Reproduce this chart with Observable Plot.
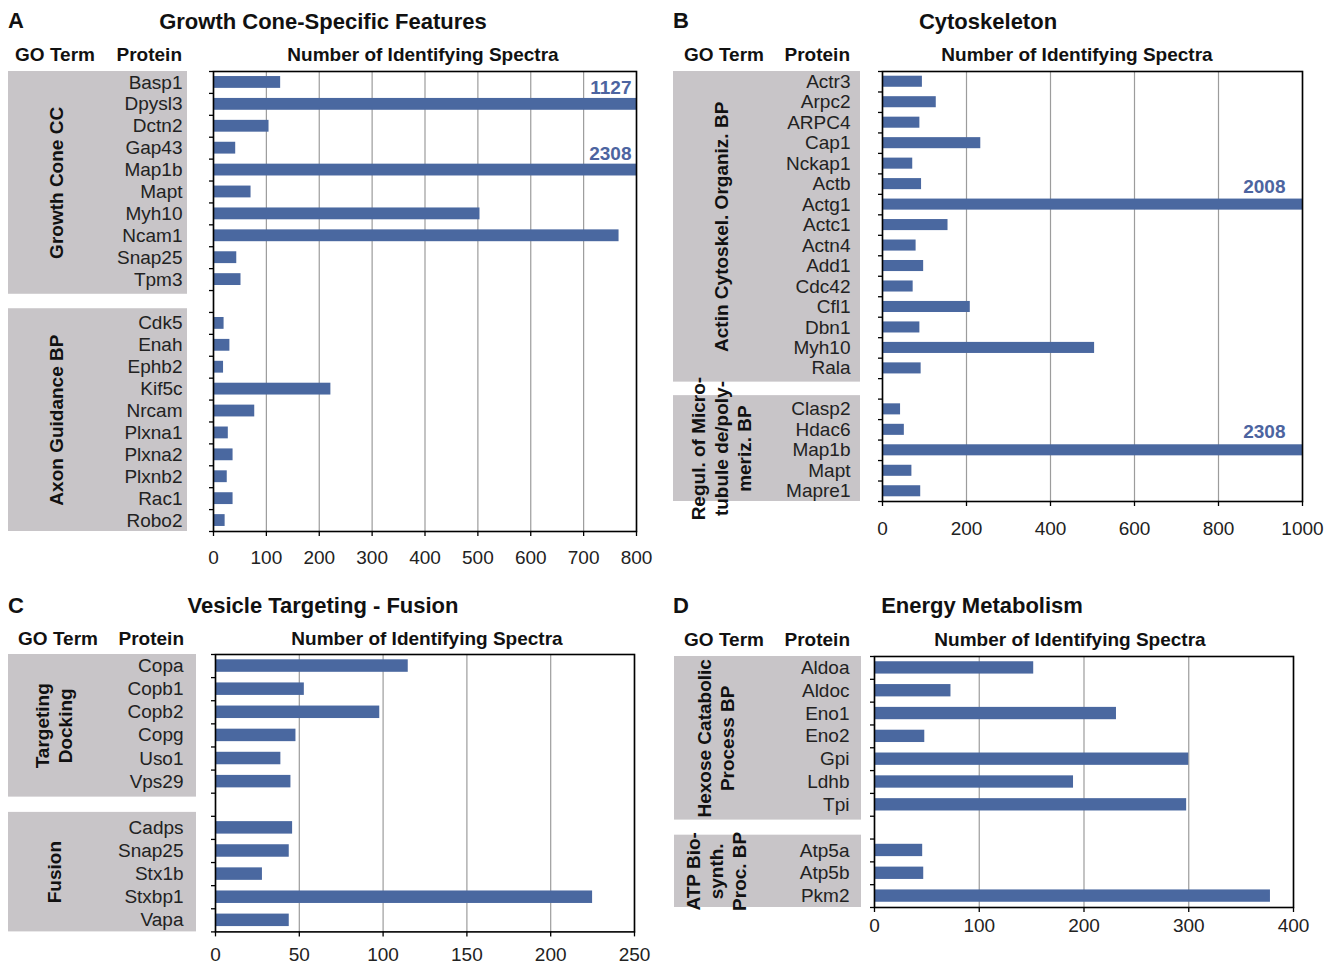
<!DOCTYPE html>
<html><head><meta charset="utf-8">
<script src="https://cdn.jsdelivr.net/npm/d3@7"></script>
<script src="https://cdn.jsdelivr.net/npm/@observablehq/plot@0.6"></script>
<style>
body{margin:0;background:#fff;font-family:"Liberation Sans",Arial,Helvetica,sans-serif;}
#root{position:relative;width:1333px;height:965px;overflow:hidden;background:#fff;}
.t{position:absolute;white-space:nowrap;color:#111;line-height:1;}
.p{position:absolute;}
</style></head><body><div id="root"></div>
<script>
// ---------- DATA ----------
// Panel A: Growth Cone-Specific Features
const aTitle = "Growth Cone-Specific Features";
const aGroups = ["Growth Cone CC", "Axon Guidance BP"];
const aProteins = [
  ["Basp1","Dpysl3","Dctn2","Gap43","Map1b","Mapt","Myh10","Ncam1","Snap25","Tpm3"],
  ["Cdk5","Enah","Ephb2","Kif5c","Nrcam","Plxna1","Plxna2","Plxnb2","Rac1","Robo2"]
];
const aValues = [
  [127,1127,105,42,2308,71,504,767,44,52],
  [20,31,19,222,78,28,37,26,37,22]
];
const aTicks = [0,100,200,300,400,500,600,700,800];

// Panel B: Cytoskeleton
const bTitle = "Cytoskeleton";
const bGroups = ["Actin Cytoskel. Organiz. BP", "Regul. of Micro-\ntubule de/poly-\nmeriz. BP"];
const bProteins = [
  ["Actr3","Arpc2","ARPC4","Cap1","Nckap1","Actb","Actg1","Actc1","Actn4","Add1","Cdc42","Cfl1","Dbn1","Myh10","Rala"],
  ["Clasp2","Hdac6","Map1b","Mapt","Mapre1"]
];
const bValues = [
  [95,128,89,234,72,93,2008,156,80,98,73,209,89,505,92],
  [43,52,2308,70,91]
];
const bTicks = [0,200,400,600,800,1000];

// Panel C: Vesicle Targeting - Fusion
const cTitle = "Vesicle Targeting - Fusion";
const cGroups = ["Targeting\nDocking", "Fusion"];
const cProteins = [
  ["Copa","Copb1","Copb2","Copg","Uso1","Vps29"],
  ["Cadps","Snap25","Stx1b","Stxbp1","Vapa"]
];
const cValues = [
  [115,53,98,48,39,45],
  [46,44,28,225,44]
];
const cTicks = [0,50,100,150,200,250];

// Panel D: Energy Metabolism
const dTitle = "Energy Metabolism";
const dGroups = ["Hexose Catabolic\nProcess BP", "ATP Bio-\nsynth.\nProc. BP"];
const dProteins = [
  ["Aldoa","Aldoc","Eno1","Eno2","Gpi","Ldhb","Tpi"],
  ["Atp5a","Atp5b","Pkm2"]
];
const dValues = [
  [152,73,231,48,300,190,298],
  [46,47,378]
];
const dTicks = [0,100,200,300,400];

const headerLabels = ["GO Term", "Protein", "Number of Identifying Spectra"];

// ---------- STYLE / LAYOUT ----------
const BAR = "#4a68a0";
const GRAY = "#c8c5c8";
const ANN = "#4c64a0";
const FONT = '"Liberation Sans", Arial, Helvetica, sans-serif';
const FS = 19;

const layout = {
  A: {boxL:8, boxR:187, frameL:213, frameR:636, frameT:70.7, frameB:530.7, labelPad:5, glX:47, tickPad:14, annDx:-5, annDy:-16,
      letter:[8,21], title:[323,22], go:[55,54], prot:[182,54], num:[423,54]},
  B: {boxL:673, boxR:860, frameL:882, frameR:1302, frameT:70.7, frameB:500.7, labelPad:10, glX:47, tickPad:15, annDx:-17, annDy:-18,
      letter:[673,21], title:[988,22], go:[724,54], prot:[850,54], num:[1077,54]},
  C: {boxL:8, boxR:196, frameL:215, frameR:634, frameT:654.3, frameB:931.7, labelPad:13, glX:45, tickPad:11, annDx:-5, annDy:-16,
      letter:[8,606], title:[323,606], go:[58,638], prot:[184,638], num:[427,638]},
  D: {boxL:674, boxR:861, frameL:874, frameR:1293, frameT:655.7, frameB:906.7, labelPad:12, glX:41, tickPad:6, annDx:-5, annDy:-16,
      letter:[673,606], title:[982,606], go:[724,639], prot:[850,639], num:[1070,639]}
};

const root = document.getElementById("root");

function txt(s, x, y, anchor, size, weight, color) {
  const d = document.createElement("div");
  d.className = "t";
  d.textContent = s;
  d.style.left = x + "px";
  d.style.top = y + "px";
  d.style.fontSize = size + "px";
  d.style.fontWeight = weight || "normal";
  if (color) d.style.color = color;
  const tx = anchor === "middle" ? "-50%" : anchor === "end" ? "-100%" : "0";
  d.style.transform = `translate(${tx},-50%)`;
  root.appendChild(d);
}

function buildRows(groups, proteins, values) {
  const rows = [], boxes = [];
  let i = 0;
  groups.forEach((g, gi) => {
    if (gi > 0) i++;
    const first = i;
    proteins[gi].forEach((p, k) => { rows.push({protein: p, value: values[gi][k], i}); i++; });
    boxes.push({label: g, first, last: i - 1, gi});
  });
  const n = i;
  boxes.forEach(b => {
    b.y1 = b.first - (b.gi > 0 ? 0.67 : 0.5);
    b.y2 = b.last + (b.gi < groups.length - 1 ? 0.67 : 0.5);
    b.yc = (b.y1 + b.y2) / 2;
  });
  return {rows, boxes, n};
}

function panel(key, letter, title, groups, proteins, values, ticks) {
  const L = layout[key];
  const {rows, boxes, n} = buildRows(groups, proteins, values);
  const xmax = ticks[ticks.length - 1];
  const mT = 10, mB = 45, mL = 10, mR = 30;
  const frameW = L.frameR - L.frameL, frameH = L.frameB - L.frameT;
  const H = frameH + mT + mB;
  const yScale = {domain: [-0.5, n - 0.5], reverse: true};
  const boundaries = d3.range(n + 1).map(k => k - 0.5);

  // bar chart
  const bars = Plot.plot({
    width: frameW + mL + mR, height: H,
    marginLeft: mL, marginRight: mR, marginTop: mT, marginBottom: mB,
    style: {background: "transparent", overflow: "visible", fontFamily: FONT, fontSize: FS + "px", color: "#222"},
    x: {domain: [0, xmax], clamp: true, label: null},
    y: {...yScale, label: null},
    marks: [
      Plot.gridX(ticks, {stroke: "#9c9c9c", strokeOpacity: 1, strokeWidth: 1.2}),
      Plot.rect(rows, {x1: 0, x2: "value", y1: d => d.i - 0.27, y2: d => d.i + 0.27, fill: BAR}),
      Plot.axisY(boundaries, {anchor: "left", tickSize: 4, tickFormat: () => "", label: null, stroke: "#000", strokeWidth: 1.3}),
      Plot.axisX(ticks, {anchor: "bottom", tickSize: 5, tickPadding: L.tickPad, tickFormat: d => String(d), label: null,
        fontSize: FS, stroke: "#000", strokeWidth: 1.3, fill: "#222"}),
      Plot.frame({stroke: "#000", strokeWidth: 1.6}),
      Plot.text(rows.filter(d => d.value > xmax), {x: xmax, y: "i", text: d => String(d.value), textAnchor: "end",
        dx: L.annDx, dy: L.annDy, fill: ANN, fontWeight: "bold", fontSize: FS})
    ]
  });
  const bd = document.createElement("div");
  bd.className = "p";
  bd.style.left = (L.frameL - mL) + "px";
  bd.style.top = (L.frameT - mT) + "px";
  bd.appendChild(bars);
  root.appendChild(bd);

  // labels (GO term boxes + protein names)
  const boxW = L.boxR - L.boxL;
  const lab = Plot.plot({
    width: boxW, height: H,
    marginLeft: 0, marginRight: 0, marginTop: mT, marginBottom: mB,
    style: {background: "transparent", overflow: "visible", fontFamily: FONT, fontSize: FS + "px", color: "#222"},
    x: {domain: [0, boxW], axis: null},
    y: {...yScale, axis: null},
    marks: [
      Plot.rect(boxes, {x1: 0, x2: boxW, y1: "y1", y2: "y2", fill: GRAY}),
      Plot.text(rows, {x: boxW - L.labelPad, y: "i", text: "protein", textAnchor: "end", fontSize: FS, fill: "#222"}),
      Plot.text(boxes, {x: L.glX, y: "yc", text: "label", rotate: -90, textAnchor: "middle", lineAnchor: "middle",
        lineHeight: 1.2, fontWeight: "bold", fontSize: FS, fill: "#111"})
    ]
  });
  const ld = document.createElement("div");
  ld.className = "p";
  ld.style.left = L.boxL + "px";
  ld.style.top = (L.frameT - mT) + "px";
  ld.appendChild(lab);
  root.appendChild(ld);

  // texts
  txt(letter, L.letter[0], L.letter[1], "start", 22, "bold");
  txt(title, L.title[0], L.title[1], "middle", 22, "bold");
  txt(headerLabels[0], L.go[0], L.go[1], "middle", 19, "bold");
  txt(headerLabels[1], L.prot[0], L.prot[1], "end", 19, "bold");
  txt(headerLabels[2], L.num[0], L.num[1], "middle", 19, "bold");
}

panel("A", "A", aTitle, aGroups, aProteins, aValues, aTicks);
panel("B", "B", bTitle, bGroups, bProteins, bValues, bTicks);
panel("C", "C", cTitle, cGroups, cProteins, cValues, cTicks);
panel("D", "D", dTitle, dGroups, dProteins, dValues, dTicks);
</script>
</body></html>
